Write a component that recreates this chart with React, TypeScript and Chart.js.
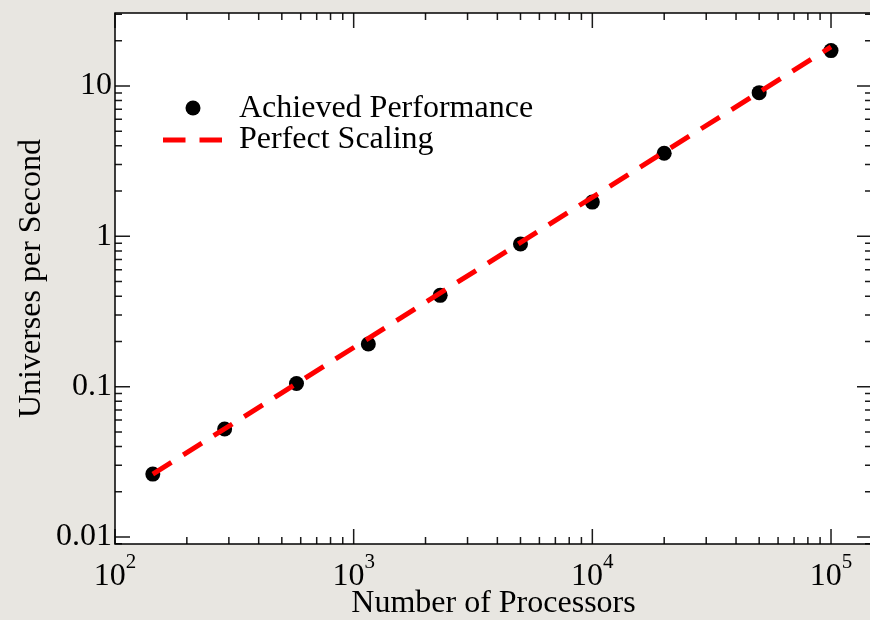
import React, { useEffect, useRef } from 'react';
import { Chart, registerables } from 'chart.js';

Chart.register(...registerables);

// ---- data ----
const processors = [144, 288, 576, 1152, 2304, 5000, 10000, 20000, 50000, 100000];
const achievedRate = [0.0262, 0.0523, 0.105, 0.192, 0.405, 0.889, 1.69, 3.57, 9.03, 17.2];
const perfectProcessors = [144, 100000];
const perfectRate = [0.0262, 18.2];

const xTickValues = [100, 1000, 10000, 100000];
const xTickBases = ['10', '10', '10', '10'];
const xTickExponents = ['2', '3', '4', '5'];
const yTickValues = [0.01, 0.1, 1, 10];
const yTickLabels = ['0.01', '0.1', '1', '10'];

const seriesNames = ['Achieved Performance', 'Perfect Scaling'];
const xTitle = 'Number of Processors';
const yTitle = 'Universes per Second';

// ---- style ----
const FONT = "'Liberation Serif', 'Times New Roman', serif";
const BG = '#e8e6e1';
const RED = '#ff0000';

const framePlugin = {
  id: 'framePlugin',
  beforeDraw(chart: any) {
    const { ctx, width, height, chartArea: a } = chart;
    ctx.save();
    ctx.fillStyle = BG;
    ctx.fillRect(0, 0, width, height);
    ctx.fillStyle = '#ffffff';
    ctx.fillRect(a.left, a.top, a.right - a.left, a.bottom - a.top);
    ctx.restore();
  },
  afterDraw(chart: any) {
    const { ctx, chartArea: a, scales } = chart;
    const xs = scales.x;
    const ys = scales.y;
    ctx.save();

    const decadeTicks = (min: number, max: number) => {
      const out: { v: number; major: boolean }[] = [];
      for (let e = Math.floor(Math.log10(min)); e <= Math.ceil(Math.log10(max)); e++) {
        for (let k = 1; k <= 9; k++) {
          const v = k * Math.pow(10, e);
          if (v >= min * 0.99999 && v <= max * 1.00001) out.push({ v, major: k === 1 });
        }
      }
      return out;
    };

    ctx.strokeStyle = '#1a1a1a';
    ctx.lineWidth = 1.5;
    ctx.beginPath();
    for (const t of decadeTicks(xs.min, xs.max)) {
      const px = xs.getPixelForValue(t.v);
      const len = t.major ? 15 : 7;
      ctx.moveTo(px, a.bottom);
      ctx.lineTo(px, a.bottom - len);
      ctx.moveTo(px, a.top);
      ctx.lineTo(px, a.top + len);
    }
    for (const t of decadeTicks(ys.min, ys.max)) {
      const py = ys.getPixelForValue(t.v);
      const len = t.major ? 15 : 7;
      ctx.moveTo(a.left, py);
      ctx.lineTo(a.left + len, py);
      ctx.moveTo(a.right, py);
      ctx.lineTo(a.right - len, py);
    }
    ctx.stroke();

    // frame
    ctx.strokeStyle = '#000';
    ctx.lineWidth = 1.5;
    ctx.strokeRect(a.left, a.top, a.right - a.left, a.bottom - a.top);

    // x tick labels with superscripts
    ctx.fillStyle = '#000';
    ctx.textBaseline = 'alphabetic';
    ctx.textAlign = 'left';
    xTickValues.forEach((v, i) => {
      const px = xs.getPixelForValue(v);
      ctx.font = `32px ${FONT}`;
      const wb = ctx.measureText(xTickBases[i]).width;
      ctx.font = `21px ${FONT}`;
      const we = ctx.measureText(xTickExponents[i]).width;
      const x0 = px - (wb + we) / 2;
      ctx.font = `32px ${FONT}`;
      ctx.fillText(xTickBases[i], x0, a.bottom + 41);
      ctx.font = `21px ${FONT}`;
      ctx.fillText(xTickExponents[i], x0 + wb, a.bottom + 24);
    });

    // legend
    const lx = a.left;
    ctx.fillStyle = '#000';
    ctx.beginPath();
    ctx.arc(lx + 78, a.top + 95, 7.5, 0, Math.PI * 2);
    ctx.fill();
    ctx.strokeStyle = RED;
    ctx.lineWidth = 5;
    ctx.setLineDash([22.5, 14]);
    ctx.beginPath();
    ctx.moveTo(lx + 48, a.top + 127);
    ctx.lineTo(lx + 107, a.top + 127);
    ctx.stroke();
    ctx.setLineDash([]);
    ctx.font = `32px ${FONT}`;
    ctx.fillStyle = '#000';
    ctx.fillText(seriesNames[0], lx + 124, a.top + 104);
    ctx.fillText(seriesNames[1], lx + 124, a.top + 135);

    ctx.restore();
  },
};

export default function App() {
  const canvasRef = useRef<HTMLCanvasElement | null>(null);

  useEffect(() => {
    document.body.style.background = BG;
    document.body.style.overflow = 'hidden';
    const canvas = canvasRef.current;
    if (!canvas) return;
    const chart = new Chart(canvas, {
      type: 'scatter',
      data: {
        datasets: [
          {
            label: seriesNames[0],
            data: processors.map((x, i) => ({ x, y: achievedRate[i] })),
            backgroundColor: '#000',
            borderColor: '#000',
            borderWidth: 0,
            pointRadius: 7.5,
            pointHoverRadius: 7.5,
            showLine: false,
            order: 2,
          },
          {
            label: seriesNames[1],
            data: perfectProcessors.map((x, i) => ({ x, y: perfectRate[i] })),
            borderColor: RED,
            backgroundColor: RED,
            borderWidth: 5,
            borderDash: [22, 14],
            borderCapStyle: 'butt',
            pointRadius: 0,
            showLine: true,
            order: 1,
          } as any,
        ],
      },
      options: {
        animation: false,
        responsive: false,
        devicePixelRatio: 1,
        layout: { padding: { left: 0, top: 13, right: 8, bottom: 0 } },
        plugins: {
          legend: { display: false },
          tooltip: { enabled: false },
        },
        scales: {
          x: {
            type: 'logarithmic',
            position: 'bottom',
            min: 100,
            max: 148500,
            grid: { display: false, drawTicks: false },
            border: { display: false },
            ticks: { display: false, autoSkip: false },
            afterBuildTicks: (s: any) => {
              s.ticks = xTickValues.map((value) => ({ value }));
            },
            title: {
              display: true,
              text: xTitle,
              color: '#000',
              font: { family: FONT, size: 32, lineHeight: 1 },
              padding: { top: 0, bottom: 0.5 },
            },
            afterFit: (s: any) => {
              s.height = 76;
              s.paddingLeft = 0;
              s.paddingRight = 0;
            },
          },
          y: {
            type: 'logarithmic',
            position: 'left',
            min: 0.00898,
            max: 30.6,
            grid: { display: false, drawTicks: false },
            border: { display: false },
            afterBuildTicks: (s: any) => {
              s.ticks = yTickValues.map((value) => ({ value }));
            },
            ticks: {
              autoSkip: false,
              padding: 3,
              color: '#000',
              font: { family: FONT, size: 32 },
              callback: (v: any) => {
                const i = yTickValues.findIndex((t) => Math.abs(t - Number(v)) / t < 1e-6);
                return i >= 0 ? yTickLabels[i] : '';
              },
            },
            title: {
              display: true,
              text: yTitle,
              color: '#000',
              font: { family: FONT, size: 32, lineHeight: 1 },
              padding: { top: 15.5, bottom: 0 },
            },
            afterFit: (s: any) => {
              s.width = 115;
              s.paddingTop = 0;
              s.paddingBottom = 0;
            },
          },
        },
      } as any,
      plugins: [framePlugin],
    });
    return () => chart.destroy();
  }, []);

  return (
    <div style={{ position: 'fixed', left: 0, top: 0, width: 880, height: 620 }}>
      <canvas ref={canvasRef} width={880} height={620} style={{ width: 880, height: 620, display: 'block' }} />
    </div>
  );
}
